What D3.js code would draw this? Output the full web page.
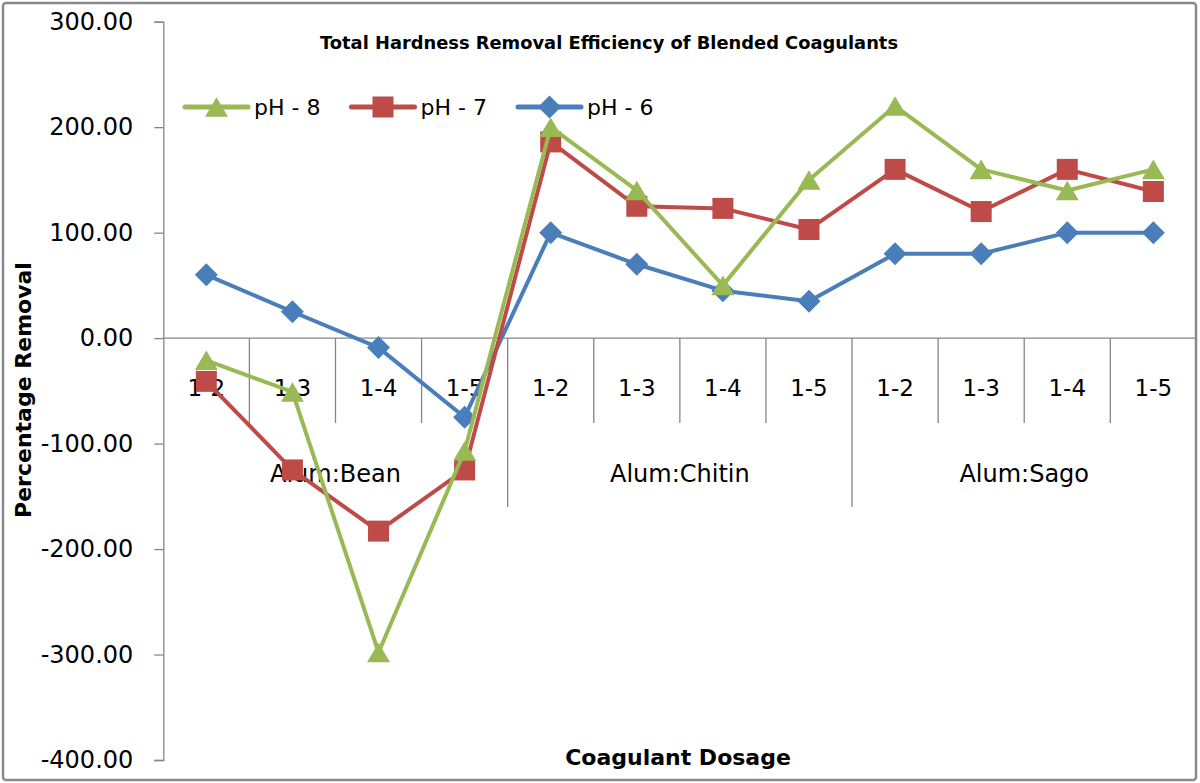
<!DOCTYPE html>
<html>
<head>
<meta charset="utf-8">
<script src="https://cdn.jsdelivr.net/npm/d3@7"></script>
<style>
  body { margin: 0; background: #fff; }
  text { font-family: "DejaVu Sans", sans-serif; fill: #000; }
</style>
</head>
<body>
<svg id="chart"></svg>
<script>
// chart values
var groups = ["Alum:Bean", "Alum:Chitin", "Alum:Sago"];
var doses = ["1-2", "1-3", "1-4", "1-5"];
var ph6 = [60, 25, -9, -75, 100, 70, 45, 35, 80, 80, 100, 100];
var ph7 = [-41, -125, -183, -125, 186, 125, 123, 103, 160, 120, 160, 139];
var ph8 = [-21, -51, -298, -107, 200, 140, 50, 150, 220, 160, 140, 160];
var yTicks = [-400, -300, -200, -100, 0, 100, 200, 300];

var W = 1200, H = 783;
var svg = d3.select("#chart").attr("width", W).attr("height", H);

// outer frame of the chart
svg.append("rect")
   .attr("x", 3).attr("y", 3)
   .attr("width", 1193).attr("height", 777)
   .attr("rx", 3)
   .style("fill", "#fff")
   .style("stroke", "#8a8a8a")
   .style("stroke-width", 2.5);

// one slot per (group, dose)
var cats = [];
groups.forEach(function (g) {
  doses.forEach(function (d) { cats.push({ group: g, dose: d }); });
});

var x = d3.scaleBand()
   .domain(d3.range(cats.length))
   .range([163.3, 1196.4]);

var y = d3.scaleLinear()
   .domain([-400, 300])
   .range([760, 21.7]);

var axisColor = "#868686";

// y axis
var yAxis = svg.append("g")
   .attr("transform", "translate(163.3,0)")
   .call(d3.axisLeft(y)
      .tickValues(yTicks)
      .tickSize(9)
      .tickPadding(21)
      .tickFormat(function (d) { return d.toFixed(2); }));
yAxis.select(".domain").style("stroke", axisColor).style("stroke-width", 1.3);
yAxis.selectAll(".tick line").style("stroke", axisColor).style("stroke-width", 1.3);
yAxis.selectAll(".tick text")
   .style("font-family", "DejaVu Sans")
   .style("font-size", "24px")
   .style("fill", "#000");

// category axis sits on y = 0
var y0 = y(0);
svg.append("line")
   .attr("x1", x(0)).attr("x2", x(cats.length - 1) + x.bandwidth())
   .attr("y1", y0).attr("y2", y0)
   .style("stroke", axisColor).style("stroke-width", 1.3);

// short ticks between doses, long ones between groups
var bounds = d3.range(1, cats.length);
svg.selectAll(".ctick")
   .data(bounds)
   .enter().append("line")
   .attr("x1", function (i) { return x(i); })
   .attr("x2", function (i) { return x(i); })
   .attr("y1", y0)
   .attr("y2", function (i) { return i % doses.length === 0 ? 507 : 423; })
   .style("stroke", axisColor).style("stroke-width", 1.3);

svg.selectAll(".clabel")
   .data(cats)
   .enter().append("text")
   .attr("x", function (d, i) { return x(i) + x.bandwidth() / 2; })
   .attr("y", 388)
   .attr("dy", "0.36em")
   .attr("text-anchor", "middle")
   .style("font-size", "23px")
   .text(function (d) { return d.dose; });

svg.selectAll(".glabel")
   .data(groups)
   .enter().append("text")
   .attr("x", function (g, k) {
      return (x(k * doses.length) + x(k * doses.length + doses.length - 1) + x.bandwidth()) / 2;
   })
   .attr("y", 473)
   .attr("dy", "0.36em")
   .attr("text-anchor", "middle")
   .style("font-size", "24px")
   .text(function (g) { return g; });

// markers, centred on their point like Excel does
function triangle(s) {
  var h = s * 0.85;
  return "M0," + (-h / 2) + "L" + (s / 2) + "," + (h / 2) + "L" + (-s / 2) + "," + (h / 2) + "Z";
}
function square(s) {
  return "M" + (-s / 2) + "," + (-s / 2) + "h" + s + "v" + s + "h" + (-s) + "Z";
}
function diamond(s) {
  return "M0," + (-s / 2) + "L" + (s / 2) + ",0L0," + (s / 2) + "L" + (-s / 2) + ",0Z";
}

var series = [
  { name: "pH - 6", values: ph6, color: "#4a7ebb", marker: diamond, size: 23 },
  { name: "pH - 7", values: ph7, color: "#be4b48", marker: square, size: 21 },
  { name: "pH - 8", values: ph8, color: "#98b954", marker: triangle, size: 23 }
];

var line = d3.line()
   .x(function (v, i) { return x(i) + x.bandwidth() / 2; })
   .y(function (v) { return y(v); });

series.forEach(function (s) {
  var g = svg.append("g");
  g.append("path")
     .attr("d", line(s.values))
     .style("fill", "none")
     .style("stroke", s.color)
     .style("stroke-width", 4)
     .style("stroke-linejoin", "round");
  g.selectAll("path.mk")
     .data(s.values)
     .enter().append("path")
     .attr("class", "mk")
     .attr("d", s.marker(s.size))
     .attr("transform", function (v, i) {
        return "translate(" + (x(i) + x.bandwidth() / 2) + "," + y(v) + ")";
     })
     .style("fill", s.color);
});

// legend: pH - 8, pH - 7, pH - 6
var legendOrder = [series[2], series[1], series[0]];
var lg = svg.selectAll(".legend")
   .data(legendOrder)
   .enter().append("g")
   .attr("transform", function (d, i) { return "translate(" + (185 + i * 166.5) + ",107)"; });
lg.append("line")
   .attr("x1", 0).attr("x2", 63)
   .style("stroke", function (d) { return d.color; })
   .style("stroke-width", 5)
   .style("stroke-linecap", "round");
lg.append("path")
   .attr("d", function (d) { return d.marker(d.size); })
   .attr("transform", "translate(31.5,0)")
   .style("fill", function (d) { return d.color; });
lg.append("text")
   .attr("x", 69)
   .attr("dy", "0.36em")
   .style("font-size", "22px")
   .text(function (d) { return d.name; });

// titles
svg.append("text")
   .attr("x", 609).attr("y", 43)
   .attr("dy", "0.36em")
   .attr("text-anchor", "middle")
   .attr("textLength", 578)
   .attr("lengthAdjust", "spacingAndGlyphs")
   .style("font-weight", "bold")
   .style("font-size", "17px")
   .text("Total Hardness Removal Efficiency of Blended Coagulants");

svg.append("text")
   .attr("transform", "translate(23,390) rotate(-90)")
   .attr("dy", "0.36em")
   .attr("text-anchor", "middle")
   .style("font-weight", "bold")
   .style("font-size", "22px")
   .text("Percentage Removal");

svg.append("text")
   .attr("x", 678).attr("y", 757)
   .attr("dy", "0.36em")
   .attr("text-anchor", "middle")
   .style("font-weight", "bold")
   .style("font-size", "22px")
   .text("Coagulant Dosage");
</script>
</body>
</html>
